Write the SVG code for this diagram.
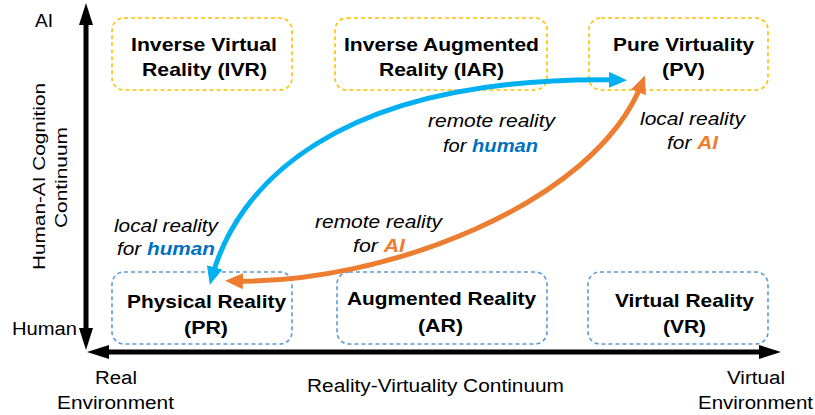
<svg xmlns="http://www.w3.org/2000/svg" width="815" height="415" viewBox="0 0 815 415">
<style>
  text { font-family: "Liberation Sans", Arial, sans-serif; fill: #000; }
  .ax { font-size: 18px; }
  .axv { font-size: 16.5px; }
  .nd { font-size: 18.5px; font-weight: bold; }
  .lb { font-size: 18px; font-style: italic; }
  .hu { font-weight: bold; fill: #0070C0; }
  .ai { font-weight: bold; fill: #ED7D31; }
  .top { fill: none; stroke: #FFC000; stroke-width: 1.6; stroke-dasharray: 4 3; }
  .bot { fill: none; stroke: #5B9BD5; stroke-width: 1.6; stroke-dasharray: 4 3; }
  .axis { fill: none; stroke: #000; stroke-width: 5; }
  .blue { fill: none; stroke: #00B0F0; stroke-width: 5; }
  .orange { fill: none; stroke: #ED7D31; stroke-width: 5; }
</style>
<defs>
  <marker id="mk" markerUnits="userSpaceOnUse" markerWidth="22" markerHeight="14" refX="12" refY="7" orient="auto-start-reverse">
    <path d="M0,0 L22,7 L0,14 z" fill="#000"/>
  </marker>
  <marker id="mb" markerUnits="userSpaceOnUse" markerWidth="18" markerHeight="16" refX="10" refY="8" orient="auto-start-reverse">
    <path d="M0,0 L18,8 L0,16 z" fill="#00B0F0"/>
  </marker>
  <marker id="mo" markerUnits="userSpaceOnUse" markerWidth="18" markerHeight="16" refX="10" refY="8" orient="auto-start-reverse">
    <path d="M0,0 L18,8 L0,16 z" fill="#ED7D31"/>
  </marker>
</defs>

<g id="axes">
  <path class="axis" d="M86 340 L86 13" marker-start="url(#mk)" marker-end="url(#mk)"/>
  <path class="axis" d="M97 352 L771 352" marker-start="url(#mk)" marker-end="url(#mk)"/>
  <text class="ax" x="35" y="27" textLength="18" lengthAdjust="spacingAndGlyphs">AI</text>
  <text class="ax" x="12" y="335" textLength="65" lengthAdjust="spacingAndGlyphs">Human</text>
  <text class="axv" transform="translate(45,270) rotate(-90)" textLength="187" lengthAdjust="spacingAndGlyphs">Human-AI Cognition</text>
  <text class="axv" transform="translate(67,228) rotate(-90)" textLength="101" lengthAdjust="spacingAndGlyphs">Continuum</text>
  <text class="ax" x="95" y="384" textLength="42" lengthAdjust="spacingAndGlyphs">Real</text>
  <text class="ax" x="57" y="409" textLength="117" lengthAdjust="spacingAndGlyphs">Environment</text>
  <text class="ax" x="307" y="392" textLength="257" lengthAdjust="spacingAndGlyphs">Reality-Virtuality Continuum</text>
  <text class="ax" x="727" y="384" textLength="58" lengthAdjust="spacingAndGlyphs">Virtual</text>
  <text class="ax" x="698" y="409" textLength="115" lengthAdjust="spacingAndGlyphs">Environment</text>
</g>

<g id="IVR">
  <rect class="top" x="112" y="18" width="180" height="72" rx="12"/>
  <text class="nd" x="131" y="51" textLength="146" lengthAdjust="spacingAndGlyphs">Inverse Virtual</text>
  <text class="nd" x="142" y="76" textLength="125" lengthAdjust="spacingAndGlyphs">Reality (IVR)</text>
</g>
<g id="IAR">
  <rect class="top" x="335" y="18" width="212" height="72" rx="12"/>
  <text class="nd" x="344" y="51" textLength="195" lengthAdjust="spacingAndGlyphs">Inverse Augmented</text>
  <text class="nd" x="379" y="76" textLength="125" lengthAdjust="spacingAndGlyphs">Reality (IAR)</text>
</g>
<g id="PV">
  <rect class="top" x="589" y="18" width="179" height="72" rx="12"/>
  <text class="nd" x="613" y="51" textLength="141" lengthAdjust="spacingAndGlyphs">Pure Virtuality</text>
  <text class="nd" x="662" y="76" textLength="43" lengthAdjust="spacingAndGlyphs">(PV)</text>
</g>
<g id="PR">
  <rect class="bot" x="112" y="272" width="180" height="72" rx="12"/>
  <text class="nd" x="127" y="308" textLength="159" lengthAdjust="spacingAndGlyphs">Physical Reality</text>
  <text class="nd" x="184" y="334" textLength="44" lengthAdjust="spacingAndGlyphs">(PR)</text>
</g>
<g id="AR">
  <rect class="bot" x="337" y="272" width="210" height="72" rx="12"/>
  <text class="nd" x="347" y="305" textLength="189" lengthAdjust="spacingAndGlyphs">Augmented Reality</text>
  <text class="nd" x="418" y="332" textLength="45" lengthAdjust="spacingAndGlyphs">(AR)</text>
</g>
<g id="VR">
  <rect class="bot" x="588" y="272" width="180" height="72" rx="12"/>
  <text class="nd" x="615" y="307" textLength="139" lengthAdjust="spacingAndGlyphs">Virtual Reality</text>
  <text class="nd" x="663" y="333" textLength="43" lengthAdjust="spacingAndGlyphs">(VR)</text>
</g>

<g id="connectors">
  <path class="blue" d="M212 277 C236 190, 330 75, 619 80" marker-start="url(#mb)" marker-end="url(#mb)"/>
  <path class="orange" d="M233 281 C380 285, 595 205, 642 83" marker-start="url(#mo)" marker-end="url(#mo)"/>
  <text class="lb" x="428" y="127" textLength="127" lengthAdjust="spacingAndGlyphs">remote reality</text>
  <text class="lb" x="443" y="152" textLength="95" lengthAdjust="spacingAndGlyphs">for <tspan class="hu">human</tspan></text>
  <text class="lb" x="640" y="125" textLength="105" lengthAdjust="spacingAndGlyphs">local reality</text>
  <text class="lb" x="667" y="149" textLength="51" lengthAdjust="spacingAndGlyphs">for <tspan class="ai">AI</tspan></text>
  <text class="lb" x="114" y="232" textLength="104" lengthAdjust="spacingAndGlyphs">local reality</text>
  <text class="lb" x="117" y="255" textLength="98" lengthAdjust="spacingAndGlyphs">for <tspan class="hu">human</tspan></text>
  <text class="lb" x="315" y="228" textLength="127" lengthAdjust="spacingAndGlyphs">remote reality</text>
  <text class="lb" x="353" y="252" textLength="52" lengthAdjust="spacingAndGlyphs">for <tspan class="ai">AI</tspan></text>
</g>
</svg>
